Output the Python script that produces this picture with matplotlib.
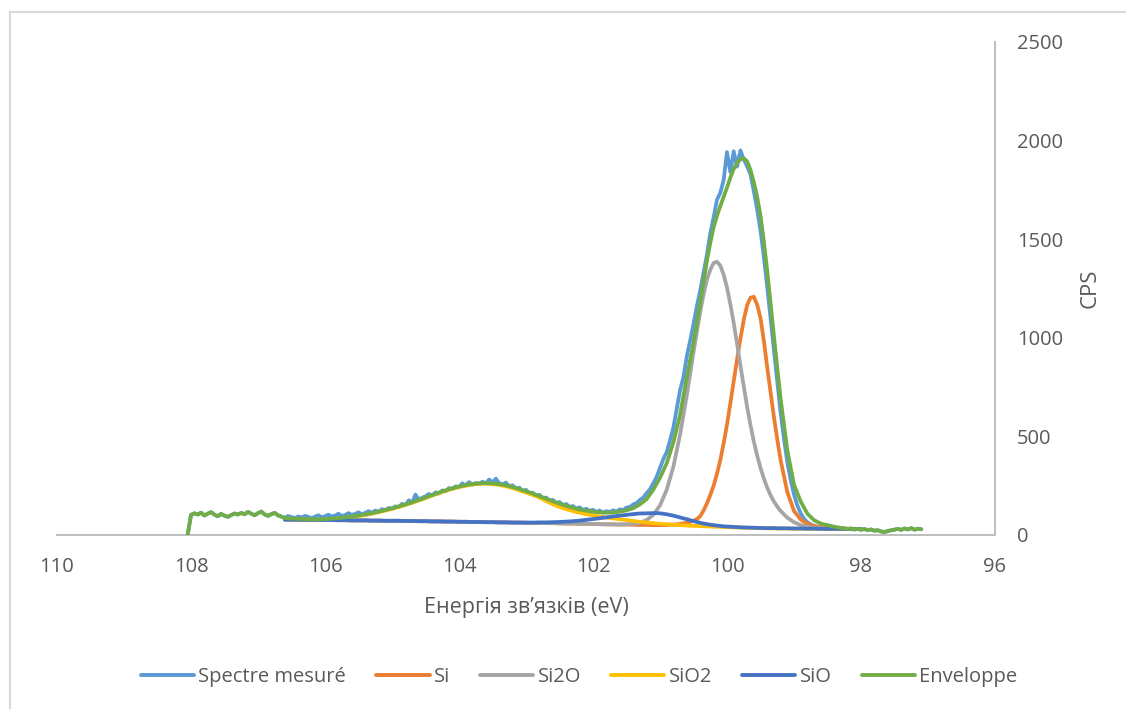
import numpy as np
import matplotlib
matplotlib.use("Agg")
import matplotlib.pyplot as plt
from matplotlib.patches import Rectangle
from matplotlib.lines import Line2D

plt.rcParams['font.family'] = ['Open Sans', 'DejaVu Sans']

# ---------------- data ----------------
# measured spectrum, sampled every 0.05 eV from 108.05 down to 97.10 eV
spectre_energy = np.round(np.arange(108.05, 97.075, -0.05), 2)
spectre = [
    0,
    102, 110, 104, 113, 99, 108, 116, 103, 95, 107, 98, 92, 101, 109, 104, 112, 105, 117, 108, 100,
    111, 119, 104, 97, 106, 112, 99, 93,
    88, 96, 91, 86, 94, 89, 97, 92, 85, 93, 100, 90, 95, 103, 94, 98, 108, 96, 101, 111, 102, 107,
    115, 105, 112, 121, 113, 124, 118, 131, 126, 137,
    134, 145, 141, 158, 152, 176, 163, 205, 180, 189, 196, 208, 201, 216, 210, 226, 221, 238, 233, 247,
    241, 262, 251, 268, 255, 264, 259, 270, 262, 281, 266, 286, 262, 256, 266, 247, 252, 236, 240, 222, 229,
    211, 215, 198, 204, 185, 190, 174, 178, 163, 167, 152, 157, 143, 147, 134, 140, 127, 133, 122, 128,
    117, 124, 113, 121, 116, 125, 119, 130, 127, 139, 142, 155, 162, 178, 190, 212, 232, 262, 295,
    340, 385, 420, 480, 545, 640, 735, 800, 905, 985, 1070, 1160, 1240, 1330, 1420, 1530, 1610, 1700,
    1735, 1800, 1942, 1840, 1946, 1868, 1950, 1905, 1870,
    1830, 1745, 1650, 1545, 1410, 1260, 1100, 935, 775, 620, 490, 370, 280, 205, 150, 110, 82, 64, 54,
    47, 42, 40, 37, 35, 38, 33, 36, 31, 34, 30, 33, 28, 31, 27, 30, 25, 28, 22, 24, 18, 15, 20, 24, 27,
    31, 26, 33, 28, 35, 27, 32, 29,
]

# fitted components: every 0.1 eV from 106.6 to 100.6, every 0.05 eV from 100.5 to 99.2,
# every 0.1 eV from 99.1 to 98.0
fit_energy = np.round(np.concatenate([
    np.arange(106.6, 100.55, -0.1),
    np.arange(100.5, 99.175, -0.05),
    np.arange(99.1, 97.95, -0.1),
]), 2)

si = [
    78, 78, 77, 77, 77, 76, 76, 76, 75, 75, 74, 74, 74, 73, 73, 72, 72, 72, 71, 71,
    70, 70, 69, 69, 68, 68, 67, 67, 66, 66, 65, 65, 64, 64, 63, 63, 62, 61, 61, 60,
    60, 59, 58, 58, 57, 57, 56, 55, 54, 54, 53,
    53, 52, 51, 51, 50, 50, 51, 53, 56, 62,
    72, 81, 95, 124, 160, 202, 250, 310, 380, 465, 560, 668, 780, 890, 995, 1090, 1165, 1203,
    1208, 1168, 1100, 985, 850, 725, 600, 485, 380,
    218, 122, 78, 56, 45, 39, 36, 34, 33, 32, 31, 30,
]

si2o = [
    78, 78, 77, 77, 77, 76, 76, 76, 75, 75, 74, 74, 74, 73, 73, 72, 72, 72, 71, 71,
    70, 70, 69, 69, 68, 68, 67, 67, 66, 66, 65, 65, 64, 64, 63, 63, 62, 61, 61, 60,
    60, 59, 58, 58, 57, 57, 56, 55, 54, 54, 53,
    54, 56, 62, 76, 102, 150, 229, 347, 510, 708,
    926, 1030, 1132, 1220, 1294, 1345, 1379, 1386, 1366, 1320, 1255, 1170, 1075, 970, 860, 755,
    650, 558, 475, 403, 340, 287, 240, 202, 170, 144, 122,
    88, 65, 50, 42, 37, 34, 32, 31, 31, 30, 30, 30,
]

sio2 = [
    83, 81, 79, 78, 77, 77, 78, 80, 83, 86, 91, 96, 101, 108, 115, 124, 132, 142, 152, 163,
    175, 187, 200, 212, 224, 234, 243, 250, 256, 259, 260,
    258, 254, 247, 238, 227, 215, 203, 190, 172, 156, 142, 131, 121, 113, 106, 100, 94, 89, 84,
    80, 76, 71, 67, 63, 60, 57, 55, 52, 50, 48,
    46, 46, 45, 44, 44, 43, 42, 42, 41, 40, 40, 39, 39, 38, 38, 37, 37, 36, 36, 35, 35, 34, 34,
    34, 34, 33, 33,
    33, 32, 32, 31, 31, 31, 30, 30, 30, 30, 30, 30,
]

sio = [
    78, 78, 77, 77, 77, 76, 76, 76, 75, 75, 74, 74, 74, 73, 73, 72, 72, 72, 71, 71,
    70, 70, 69, 69, 68, 68, 67, 67, 66, 66, 65, 65, 64, 64, 63, 63,
    63, 63, 64, 64, 65, 66, 68, 70, 73, 77, 81, 85, 89, 94, 98, 102, 106, 109, 110, 111,
    110, 105, 98, 89, 80,
    70, 66, 62, 58, 55, 52, 50, 48, 46, 44, 43, 42, 41, 40, 39, 38, 38, 37, 37, 36, 36, 35, 35,
    35, 35, 34, 34,
    34, 33, 33, 32, 32, 31, 31, 31, 31, 30, 30, 30,
]

# envelope inside the fitted window (106.6 -> 98.3 eV); outside it follows the data
enveloppe_fit = [
    86, 84, 82, 81, 80, 80, 81, 83, 86, 89, 94, 99, 104, 111, 118, 127, 135, 145, 155, 166,
    178, 190, 203, 215, 227, 237, 246, 253, 259, 262, 263, 262, 258, 252, 243, 233, 222, 210,
    197, 184, 171, 159, 148, 138, 129, 123, 118, 115, 113, 114, 118, 125, 136, 155, 182, 230,
    290, 364, 470, 610, 800,
    975, 1075, 1176, 1285, 1390, 1480, 1560, 1618, 1668, 1715, 1762, 1812, 1856, 1887, 1905,
    1910, 1895, 1852, 1790, 1715, 1620, 1490, 1340, 1178, 1010, 848, 690,
    430, 255, 170, 108, 75, 58, 50, 42, 36,
]

x_ticks = [110, 108, 106, 104, 102, 100, 98, 96]
y_ticks = [0, 500, 1000, 1500, 2000, 2500]

series_names = ["Spectre mesuré", "Si", "Si2O", "SiO2", "SiO", "Enveloppe"]
colors = ["#5B9BD5", "#ED7D31", "#A5A5A5", "#FFC000", "#4472C4", "#70AD47"]

# ---------------- assemble ----------------
spectre = np.array(spectre, dtype=float)
n_fit_env = len(enveloppe_fit)
left_mask = spectre_energy > fit_energy[0] + 0.02
right_mask = spectre_energy < fit_energy[n_fit_env - 1] - 0.02
env_x = np.concatenate([spectre_energy[left_mask], fit_energy[:n_fit_env], spectre_energy[right_mask]])
env_y = np.concatenate([spectre[left_mask], enveloppe_fit, spectre[right_mask]])

# ---------------- figure ----------------
W, H = 1126, 709
fig = plt.figure(figsize=(W / 100, H / 100), dpi=100)
ax = fig.add_axes([57 / W, (H - 535) / H, (995 - 57) / W, (535 - 42) / H])

lw = 2.7
kw = dict(lw=lw, solid_joinstyle='round', solid_capstyle='round')
ax.plot(spectre_energy[:len(spectre)], spectre, color=colors[0], zorder=2, **kw)
ax.plot(fit_energy, si, color=colors[1], zorder=3, **kw)
ax.plot(fit_energy, si2o, color=colors[2], zorder=4, **kw)
ax.plot(fit_energy, sio2, color=colors[3], zorder=5, **kw)
ax.plot(fit_energy, sio, color=colors[4], zorder=6, **kw)
ax.plot(env_x, env_y, color=colors[5], zorder=7, **kw)

ax.set_xlim(110, 96)
ax.set_ylim(0, 2500)
ax.set_xticks(x_ticks)
ax.set_xticklabels([str(t) for t in x_ticks])
ax.set_yticks(y_ticks)
ax.set_yticklabels([str(t) for t in y_ticks])
ax.yaxis.tick_right()
ax.yaxis.set_label_position('right')

for s in ['left', 'top']:
    ax.spines[s].set_visible(False)
for s in ['right', 'bottom']:
    ax.spines[s].set_color('#BFBFBF')
    ax.spines[s].set_linewidth(1.5)

ax.tick_params(axis='both', length=0, labelsize=14.5, labelcolor='#595959')
ax.tick_params(axis='x', pad=16)
ax.tick_params(axis='y', pad=16)

ax.set_xlabel("Енергія зв’язків (eV)", fontsize=15.5, color='#595959', labelpad=14)
ax.set_ylabel("CPS", fontsize=16, color='#595959', labelpad=12)

handles = [Line2D([0], [0], color=c, lw=2.8, solid_capstyle='round') for c in colors]
leg = fig.legend(handles, series_names, loc='center', bbox_to_anchor=(579 / W, 1 - 677 / H),
                 ncol=6, frameon=False, fontsize=14.5, handlelength=2.65, handletextpad=0.2,
                 columnspacing=1.5)
for t in leg.get_texts():
    t.set_color('#595959')

# chart-area border (only left and top edges visible in the crop)
fig.add_artist(Rectangle((9.5 / W, -0.05), 1.5, 1.05 - 11.5 / H, transform=fig.transFigure,
                         fill=False, edgecolor='#D9D9D9', lw=1.5))

fig.savefig('out.png', dpi=100)
